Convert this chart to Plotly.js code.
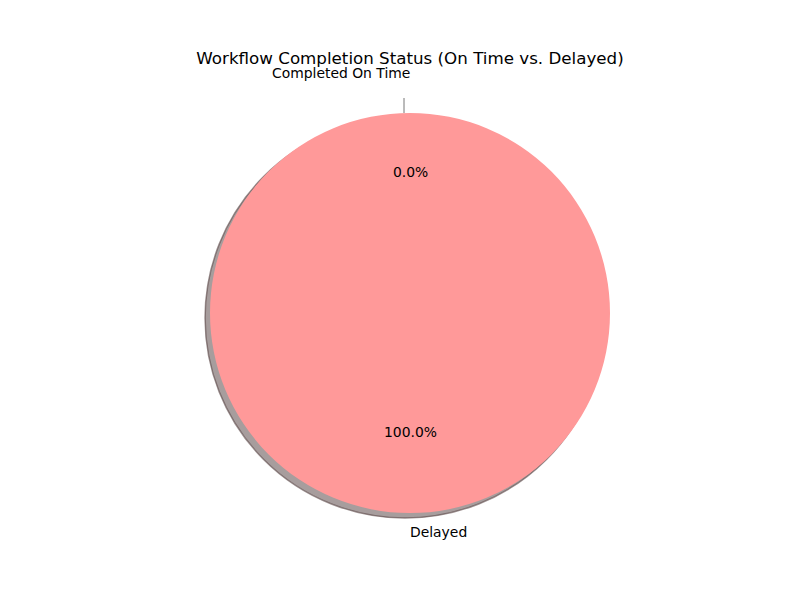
<!DOCTYPE html>
<html><head><script src="https://cdn.plot.ly/plotly-3.0.1.min.js"></script></head>
<body style="margin:0"><div id="c" style="width:800px;height:600px"></div>
<script>
const labels = ["Completed On Time", "Delayed"];
const values = [0, 100];
const colors = ["#66b3ff", "#ff9999"];
const total = values.reduce((a,b)=>a+b,0);
const pct = values.map(v => (100*v/total).toFixed(1) + "%");
const font = {family:"DejaVu Sans", size:13.9, color:"#000"};
const dom = {x:[0.2625,0.7625], y:[0.145,0.8117]};
const shadowDom = {x:[0.2563,0.7563], y:[0.1367,0.8033]};
const data = [
 {type:"pie", labels:labels, values:values, sort:false, direction:"counterclockwise", rotation:0,
  marker:{colors:["rgba(80,60,60,0.5)","rgba(80,60,60,0.5)"], line:{width:1.5,color:"rgba(90,70,70,0.6)"}},
  textinfo:"none", hoverinfo:"skip", showlegend:false, domain:shadowDom},
 {type:"pie", labels:labels, values:values, sort:false, direction:"counterclockwise", rotation:0,
  marker:{colors:colors}, textinfo:"none", showlegend:false, domain:dom}
];
const layout = {
 width:800, height:600, margin:{l:0,r:0,t:0,b:0}, paper_bgcolor:"#fff",
 title:{text:"Workflow Completion Status (On Time vs. Delayed)", font:{family:"DejaVu Sans",size:16.7,color:"#000"}, x:0.5125, y:0.903, xanchor:"center", yanchor:"middle"},
 xaxis:{visible:false, range:[0,800]}, yaxis:{visible:false, range:[600,0]},
 shapes:[{type:"line", xref:"x", yref:"y", x0:404, x1:404, y0:98, y1:113, line:{color:"#777", width:1}}],
 annotations:[
  {x:341, y:73, xref:"x", yref:"y", text:labels[0], showarrow:false, font:font},
  {x:410, y:172, xref:"x", yref:"y", text:pct[0], showarrow:false, font:font},
  {x:410, y:432, xref:"x", yref:"y", text:pct[1], showarrow:false, font:font},
  {x:438, y:532, xref:"x", yref:"y", text:labels[1], showarrow:false, font:font}
 ]
};
Plotly.newPlot("c", data, layout, {displayModeBar:false});
</script></body></html>
